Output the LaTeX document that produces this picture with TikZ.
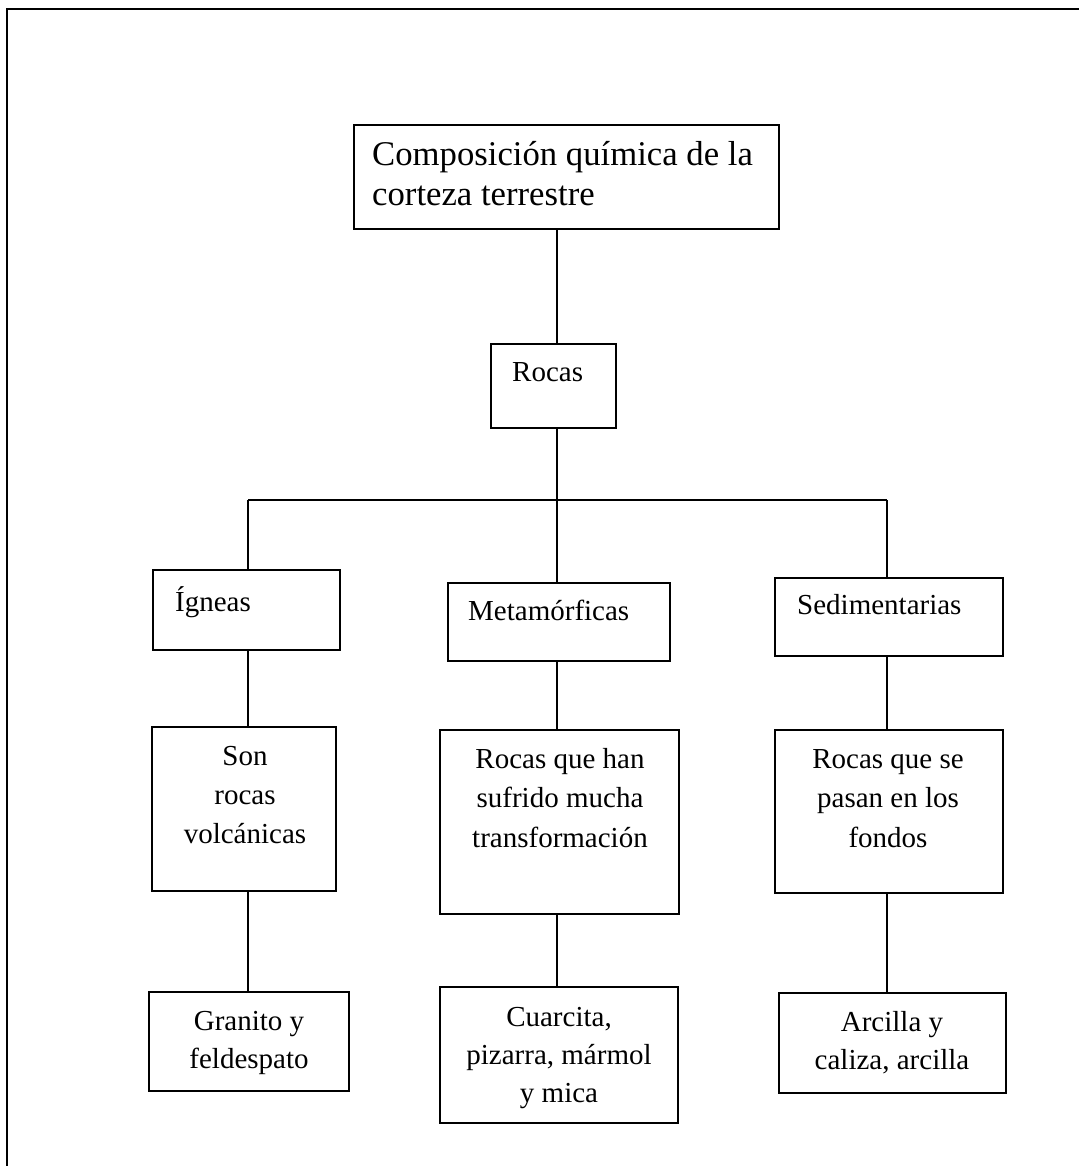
\documentclass[tikz,border=0pt]{standalone}
\usepackage{fontspec}
\setmainfont{Liberation Serif}
\begin{document}
\begin{tikzpicture}[x=1pt,y=-1pt,
  box/.style={draw, line width=1.8pt, inner sep=0pt},
  bigtxt/.style={font=\fontsize{34.7}{40}\selectfont, inner sep=0pt},
  txt/.style={font=\fontsize{29}{39}\selectfont, inner sep=0pt},
  link/.style={line width=1.4pt}]
\useasboundingbox (0,0) rectangle (1079,1166);
\draw[line width=2pt] (7,1166) -- (7,9) -- (1079,9);

% boxes
\node[box, minimum width=425pt, minimum height=104pt] (top) at (566.5,177) {};
\node[box, minimum width=125pt, minimum height=84pt] (rocas) at (553.5,386) {};
\node[box, minimum width=187pt, minimum height=80pt] (ign) at (246.5,610) {};
\node[box, minimum width=222pt, minimum height=78pt] (met) at (559,622) {};
\node[box, minimum width=228pt, minimum height=78pt] (sed) at (889,617) {};
\node[box, minimum width=184pt, minimum height=164pt] (son) at (244,809) {};
\node[box, minimum width=239pt, minimum height=184pt] (han) at (559.5,822) {};
\node[box, minimum width=228pt, minimum height=163pt] (se) at (889,811.5) {};
\node[box, minimum width=200pt, minimum height=99pt] (gra) at (249,1041.5) {};
\node[box, minimum width=238pt, minimum height=136pt] (cua) at (559,1055) {};
\node[box, minimum width=227pt, minimum height=100pt] (arc) at (892.5,1043) {};

% connectors
\coordinate (cm) at (557,500);
\coordinate (bl) at (248,500);
\coordinate (br) at (887,500);
\draw[link] (top.south -| cm) -- (rocas.north -| cm);
\draw[link] (rocas.south -| cm) -- (cm);
\draw[link] (bl) -- (br);
\draw[link] (bl) -- (bl |- ign.north);
\draw[link] (cm) -- (cm |- met.north);
\draw[link] (br) -- (br |- sed.north);
\draw[link] (bl |- ign.south) -- (bl |- son.north);
\draw[link] (cm |- met.south) -- (cm |- han.north);
\draw[link] (br |- sed.south) -- (br |- se.north);
\draw[link] (bl |- son.south) -- (bl |- gra.north);
\draw[link] (cm |- han.south) -- (cm |- cua.north);
\draw[link] (br |- se.south) -- (br |- arc.north);

% texts
\node[bigtxt, anchor=base west] (t1) at (372,166) {Composición química de la};
\node[bigtxt, anchor=base west] (t2) at (372,206) {corteza terrestre};
\node[txt, anchor=base west] (t3) at (512,381) {Rocas};
\node[txt, anchor=base west] (t4) at (175,611) {Ígneas};
\node[txt, anchor=base west] (t5) at (468,620) {Metamórficas};
\node[txt, anchor=base west] (t6) at (797,614) {Sedimentarias};
\node[txt, anchor=base] (t7) at (245,765) {Son};
\node[txt, anchor=base] (t8) at (245,804) {rocas};
\node[txt, anchor=base] (t9) at (245,843) {volcánicas};
\node[txt, anchor=base] (t10) at (560,768) {Rocas que han};
\node[txt, anchor=base] (t11) at (560,807) {sufrido mucha};
\node[txt, anchor=base] (t12) at (560,847) {transformación};
\node[txt, anchor=base] (t13) at (888,768) {Rocas que se};
\node[txt, anchor=base] (t14) at (888,807) {pasan en los};
\node[txt, anchor=base] (t15) at (888,847) {fondos};
\node[txt, anchor=base] (t16) at (249,1030) {Granito y};
\node[txt, anchor=base] (t17) at (249,1068) {feldespato};
\node[txt, anchor=base] (t18) at (559,1026) {Cuarcita,};
\node[txt, anchor=base] (t19) at (559,1064) {pizarra, mármol};
\node[txt, anchor=base] (t20) at (559,1102) {y mica};
\node[txt, anchor=base] (t21) at (892,1031) {Arcilla y};
\node[txt, anchor=base] (t22) at (892,1069) {caliza, arcilla};
\end{tikzpicture}
\end{document}
